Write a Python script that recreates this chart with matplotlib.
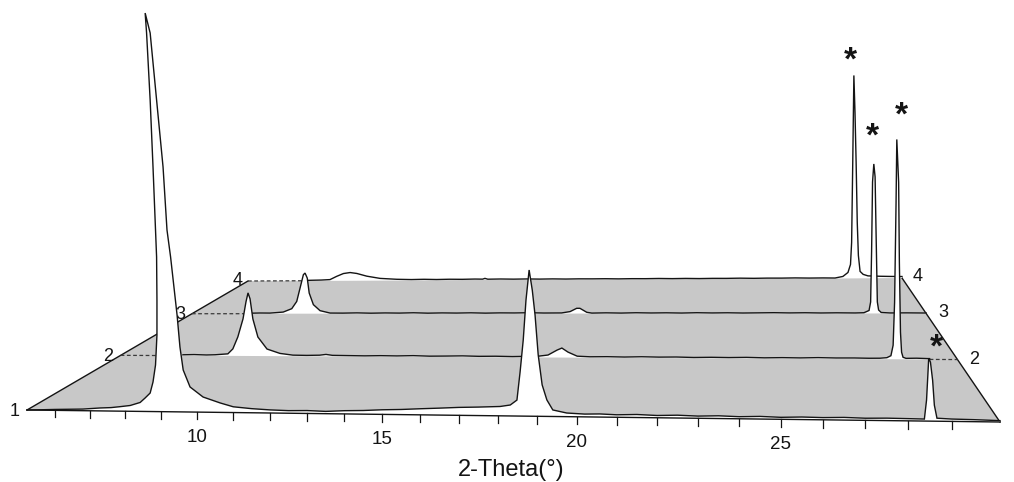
import numpy as np
import matplotlib
matplotlib.use("Agg")
import matplotlib.pyplot as plt
import matplotlib.transforms as mtransforms
from matplotlib.patches import Polygon

plt.rcParams['font.family'] = ['Liberation Sans', 'DejaVu Sans']

# ---------------- data (2-theta in degrees, intensity in a.u.) ----------------
theta_min, theta_max = 5.2, 30.1
series_labels = ['1', '2', '3', '4']          # front -> back

s1_theta = [5.20, 5.60, 6.00, 6.35, 6.80, 7.29, 7.60, 7.85, 8.14, 8.42, 8.56, 8.70, 8.78, 8.85, 8.89,
            8.89, 8.88, 8.78, 8.70, 8.60, 8.56, 8.70, 8.88, 9.06, 9.17, 9.27, 9.45, 9.53, 9.62, 9.81,
            10.17, 10.64, 11.00, 11.50, 12.00, 12.50, 13.00, 13.50, 14.00, 14.50, 15.00, 15.50, 16.00,
            16.50, 17.00, 17.50, 18.06, 18.32, 18.49, 18.57, 18.65, 18.72, 18.80, 18.88, 18.95, 19.03,
            19.13, 19.25, 19.40, 19.75, 20.20, 20.58, 21.00, 21.50, 22.00, 22.50, 23.00, 23.50, 24.00,
            24.50, 25.00, 25.50, 26.00, 26.50, 27.00, 27.50, 28.00, 28.37, 28.42, 28.45, 28.47, 28.51,
            28.56, 28.60, 28.66, 29.00, 29.50, 30.10]
s1_int = [0.0, 0.4, 0.9, 1.2, 1.6, 2.9, 3.4, 4.4, 5.7, 8.8, 13.3, 18.2, 29.1, 45.8, 75.3,
          109.7, 152.0, 240.5, 306.5, 372.6, 392.3, 372.5, 306.3, 240.4, 178.4, 151.9, 95.0, 63.6, 41.1, 24.5,
          14.8, 9.2, 5.6, 4.0, 3.0, 2.5, 2.8, 2.2, 3.1, 3.5, 4.4, 4.9, 5.8,
          6.6, 7.5, 8.0, 8.8, 10.3, 15.0, 41.3, 71.3, 108.8, 137.1, 118.2, 95.0, 57.6,
          29.5, 15.4, 6.1, 3.4, 2.6, 2.9, 2.3, 2.8, 2.1, 2.6, 2.0, 2.5, 1.9,
          2.4, 1.8, 2.3, 2.0, 2.4, 1.9, 2.2, 2.0, 1.8, 18.8, 41.0, 56.3, 52.7,
          36.6, 14.3, 2.7, 2.1, 1.8, 1.2]

s2_theta = [7.24, 7.60, 8.00, 8.28, 8.69, 8.85, 9.01, 9.175, 9.27, 9.335, 9.40, 9.49, 9.65, 9.94, 10.35,
            10.76, 11.20, 11.60, 11.80, 12.00, 12.50, 13.00, 13.50, 14.00, 14.50, 15.00, 15.50, 16.00,
            16.50, 17.00, 17.50, 18.00, 18.30, 18.56, 18.83, 18.97, 19.15, 19.42, 19.80, 20.30, 20.80,
            21.30, 21.80, 22.30, 22.80, 23.30, 23.80, 24.30, 24.80, 25.30, 25.80, 26.30, 26.80, 27.30,
            27.70, 28.00, 28.19, 28.30, 28.36, 28.40, 28.44, 28.46, 28.51, 28.53, 28.56, 28.59, 28.63,
            28.71, 29.00, 29.35]
s2_int = [1.0, 1.3, 0.9, 1.2, 2.3, 8.0, 21.7, 42.2, 61.6, 71.8, 65.0, 42.2, 21.6, 8.0, 3.1,
          1.2, 1.0, 1.3, 2.2, 1.2, 1.0, 0.8, 1.1, 0.9, 1.3, 0.8, 1.0, 1.3,
          0.9, 1.1, 0.8, 1.2, 1.5, 2.7, 8.2, 10.4, 6.0, 1.6, 1.0, 1.2, 0.9,
          1.3, 1.0, 1.2, 0.8, 1.1, 0.9, 1.2, 0.8, 1.1, 0.9, 1.3, 1.0, 1.1,
          0.9, 1.0, 1.6, 3.7, 14.7, 59.9, 164.9, 230.9, 185.8, 101.8, 28.4, 7.4, 2.1,
          1.0, 1.2, 0.8]

s3_theta = [7.30, 7.70, 8.07, 8.55, 8.86, 9.04, 9.16, 9.28, 9.34, 9.42, 9.49, 9.64, 9.88, 10.24, 10.70,
            11.20, 11.70, 12.20, 12.70, 13.20, 13.70, 14.20, 14.70, 15.20, 15.70, 16.20, 16.70, 17.20,
            17.70, 18.30, 18.59, 18.81, 18.92, 19.15, 19.32, 19.80, 20.30, 20.80, 21.30, 21.80, 22.30,
            22.80, 23.30, 23.80, 24.30, 24.80, 25.30, 25.80, 26.30, 26.80, 27.30, 27.88, 28.16, 28.32,
            28.37, 28.40, 28.43, 28.47, 28.51, 28.54, 28.58, 28.62, 28.70, 28.98, 29.50, 30.10]
s3_int = [0.6, 0.9, 0.8, 2.1, 6.5, 15.9, 33.2, 50.5, 52.6, 46.1, 26.7, 11.7, 3.9, 0.8, 0.7,
          1.0, 0.6, 0.9, 0.7, 1.1, 0.6, 0.9, 0.7, 1.0, 0.6, 0.9, 0.8, 1.1,
          0.7, 0.8, 2.5, 6.6, 6.6, 1.6, 0.6, 0.9, 0.6, 1.0, 0.7, 0.9, 0.6,
          1.0, 0.7, 0.9, 0.6, 0.8, 1.0, 0.7, 0.9, 0.6, 0.8, 0.6, 0.9, 3.6,
          13.9, 74.3, 158.8, 180.5, 164.8, 98.4, 13.9, 4.2, 1.2, 0.6, 0.7, 0.5]

s4_theta = [7.60, 7.74, 8.20, 8.55, 8.82, 9.09, 9.36, 9.63, 10.03, 10.56, 11.22, 11.80, 12.30, 12.80,
            13.30, 13.80, 14.30, 14.60, 14.69, 14.80, 15.30, 15.80, 16.30, 16.80, 17.30, 17.80, 18.30,
            18.80, 19.30, 19.80, 20.30, 20.80, 21.30, 21.80, 22.30, 22.80, 23.30, 23.80, 24.30, 24.80,
            25.30, 25.80, 26.30, 26.80, 27.30, 27.73, 28.01, 28.19, 28.28, 28.32, 28.36, 28.40, 28.44,
            28.48, 28.52, 28.56, 28.62, 28.73, 28.90, 29.33, 29.70, 30.10]
s4_int = [0.5, 0.6, 0.9, 1.5, 6.2, 10.2, 11.6, 10.2, 6.2, 2.9, 1.5, 1.0, 1.3, 0.9,
          1.2, 1.0, 1.3, 1.1, 2.2, 1.0, 1.2, 0.9, 1.1, 0.8, 1.0, 0.7, 0.9,
          0.8, 0.9, 0.6, 0.8, 0.7, 0.9, 0.6, 0.8, 0.5, 0.7, 0.6, 0.8, 0.5,
          0.7, 0.6, 0.8, 0.5, 0.6, 0.4, 2.5, 7.9, 18.8, 48.8, 158.0, 276.7, 226.0,
          158.0, 76.0, 31.0, 9.3, 5.2, 3.1, 2.5, 2.2, 2.0]

tick_values = list(range(6, 30))
labelled_ticks = [10, 15, 20, 25]
x_title = '2-Theta(°)'
marker_text = '*'          # reference (Si) reflection in every pattern

# ---------------- layout: perspective floor (pixel corners of the floor) ----------------
W, H = 1014, 482
P00, P10, P11, P01 = (27, 410), (1000, 422), (902, 278), (248, 281)


def square_to_quad(p00, p10, p11, p01):
    x0, y0 = p00; x1, y1 = p10; x2, y2 = p11; x3, y3 = p01
    sx = x0 - x1 + x2 - x3
    sy = y0 - y1 + y2 - y3
    dx1, dx2 = x1 - x2, x3 - x2
    dy1, dy2 = y1 - y2, y3 - y2
    det = dx1 * dy2 - dx2 * dy1
    g = (sx * dy2 - dx2 * sy) / det
    h = (dx1 * sy - sx * dy1) / det
    return (x1 - x0 + g * x1, x3 - x0 + h * x3, x0,
            y1 - y0 + g * y1, y3 - y0 + h * y3, y0, g, h)


HA, HB, HC, HD, HE, HF, HG, HH = square_to_quad(P00, P10, P11, P01)


class WaterfallTransform(mtransforms.Transform):
    """(2-theta, intensity) of the pattern at a given depth -> perspective pixel coords."""
    input_dims = 2
    output_dims = 2
    is_separable = False
    has_inverse = False

    def __init__(self, layer, plane=False):
        super().__init__()
        self._layer = layer
        self._plane = plane   # if True the 2nd input is the depth (0..1) with zero intensity

    def transform_non_affine(self, values):
        values = np.asarray(values, dtype=float).reshape(-1, 2)
        u = (values[:, 0] - theta_min) / (theta_max - theta_min)
        if self._plane:
            v = values[:, 1]
            inten = np.zeros_like(u)
        else:
            v = np.full_like(u, self._layer)
            inten = values[:, 1]
        w = HG * u + HH * v + 1.0
        x = (HA * u + HB * v + HC) / w
        y = (HD * u + HE * v + HF) / w - inten / w
        return np.column_stack([x, y])


fig = plt.figure(figsize=(W / 100, H / 100), dpi=100)
ax = fig.add_axes([0, 0, 1, 1])
ax.set_autoscale_on(False)
ax.set_xlim(0, W)
ax.set_ylim(H, 0)
ax.axis('off')

INK = '#141414'
GRAY = '#c8c8c8'
n = len(series_labels)
layers = [i / (n - 1) for i in range(n)]
plane_T = WaterfallTransform(0, plane=True) + ax.transData

# grey floor
floor = Polygon([[theta_min, 0], [theta_max, 0], [theta_max, 1], [theta_min, 1]], closed=True,
                facecolor=GRAY, edgecolor='none', transform=plane_T, zorder=1)
ax.add_patch(floor)
# side edges
ax.plot([theta_min, theta_min], [0, 1], color=INK, lw=1.0, transform=plane_T, zorder=2)
ax.plot([theta_max, theta_max], [0, 1], color=INK, lw=1.0, transform=plane_T, zorder=2)

series = [(s1_theta, s1_int), (s2_theta, s2_int), (s3_theta, s3_int), (s4_theta, s4_int)]
star_offsets_px = [(7.5, -10.5), (5, -23), (-1.5, -27), (-3, -14)]

for idx in range(n - 1, -1, -1):
    th, it = series[idx]
    T = WaterfallTransform(layers[idx]) + ax.transData
    z = 10 + (n - 1 - idx) * 3
    poly = list(zip(th, it)) + [(th[-1], 0.0), (th[0], 0.0)]
    ax.add_patch(Polygon(poly, closed=True, facecolor='white', edgecolor='none', transform=T, zorder=z))
    # dashed baseline where the pattern has no data
    if th[0] > theta_min + 1e-6:
        ax.plot([theta_min, th[0]], [0, 0], color='#3a3a3a', lw=0.9, ls=(0, (3, 2)), transform=T, zorder=z + 0.5)
    if th[-1] < theta_max - 1e-6:
        ax.plot([th[-1], theta_max], [0, 0], color='#3a3a3a', lw=0.9, ls=(0, (3, 2)), transform=T, zorder=z + 0.5)
    ax.plot(th, it, color=INK, lw=1.0, transform=T, zorder=z + 1, solid_joinstyle='miter')
    # asterisk over the reference reflection
    k = int(np.argmax([v if t > 25 else -1 for t, v in zip(th, it)]))
    dx, dy = star_offsets_px[idx]
    ax.annotate(marker_text, xy=(th[k], it[k]), xycoords=T, xytext=(dx * 0.72, -dy * 0.72),
                textcoords='offset points', ha='center', va='center', fontsize=24,
                fontweight='bold', color=INK, zorder=40)

# front axis with ticks
T0 = WaterfallTransform(0.0) + ax.transData
ax.plot([theta_min, theta_max], [0, 0], color=INK, lw=1.0, transform=T0, zorder=30)
for t in tick_values:
    ax.plot([t, t], [0, -7], color=INK, lw=0.9, transform=T0, zorder=30)
for t in labelled_ticks:
    ax.annotate(str(t), xy=(t, 0), xycoords=T0, xytext=(0, -30 * 0.72), textcoords='offset points',
                ha='center', va='baseline', fontsize=13.5, color=INK)

# series numbers
left_off = [(-12, 0), (-12.6, 0), (-12, -1), (-10, -2)]
right_off = [None, (16.5, -1.6), (17, -2.5), (16, -3)]
for idx, lab in enumerate(series_labels):
    dx, dy = left_off[idx]
    ax.annotate(lab, xy=(theta_min, layers[idx]), xycoords=plane_T,
                xytext=(dx * 0.72, -(dy + 6) * 0.72), textcoords='offset points',
                ha='center', va='baseline', fontsize=13, color=INK)
    if right_off[idx] is not None:
        dx, dy = right_off[idx]
        ax.annotate(lab, xy=(theta_max, layers[idx]), xycoords=plane_T,
                    xytext=(dx * 0.72, -(dy + 6) * 0.72), textcoords='offset points',
                    ha='center', va='baseline', fontsize=13, color=INK)

fig.text(511 / W, 1 - 470 / H, x_title, ha='center', va='center', fontsize=17, color=INK)

fig.savefig('out.png', dpi=100)
